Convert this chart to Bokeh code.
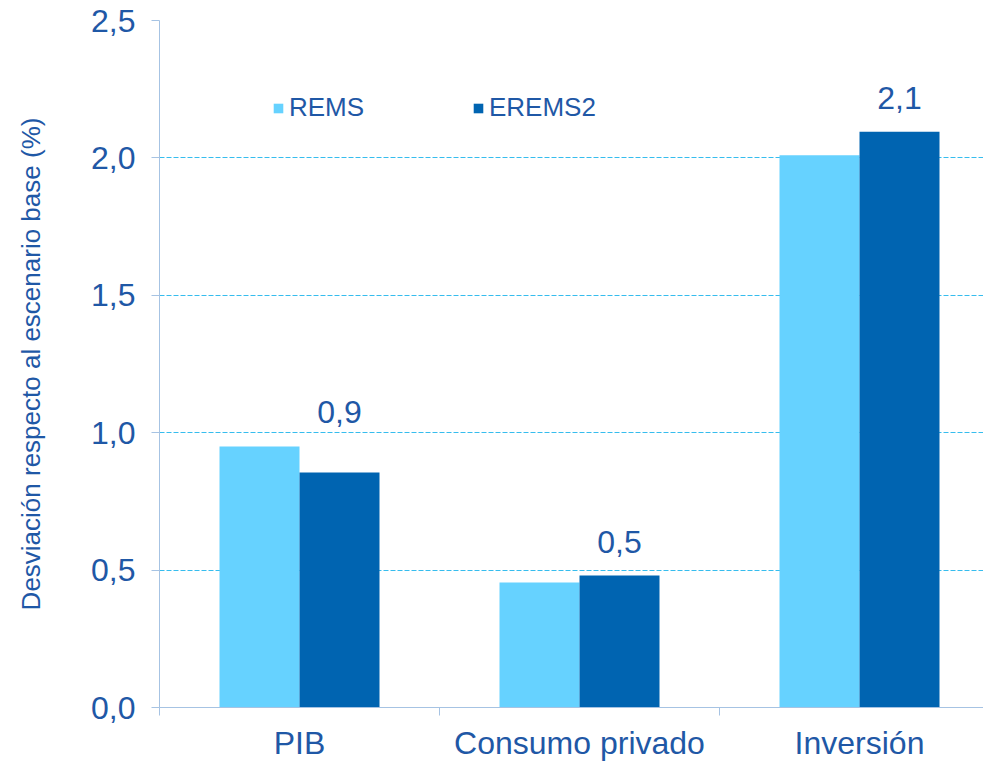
from bokeh.plotting import figure
from bokeh.models import (Range1d, FixedTicker, CustomJSTickFormatter, Legend,
                          LegendItem, ColumnDataSource)
from bokeh.embed import file_html
from bokeh.resources import INLINE
from bokeh.core.properties import value

# ---- data ----
categories = ["PIB", "Consumo privado", "Inversión"]
series_names = ["REMS", "EREMS2"]
rems = [0.95, 0.455, 2.01]
erems2 = [0.855, 0.48, 2.095]
y_ticks = [0.0, 0.5, 1.0, 1.5, 2.0, 2.5]
y_label = "Desviación respecto al escenario base (%)"

# ---- style ----
FONT = "Liberation Sans"
TXT = "#1F58A6"
AXC = "#A6C3E3"
GRID = "#36BDEE"
C_REMS = "#66D2FF"
C_EREMS2 = "#0064B1"

W, H = 983, 763
LEFT, TOP, BOTTOM = 159, 20, 56
CAT_PX = 280.0
BW = 80.0 / CAT_PX

centers = [i + 0.5 for i in range(len(categories))]
x_rems = [c - BW / 2 for c in centers]
x_erems = [c + BW / 2 for c in centers]

p = figure(width=W, height=H, output_backend="svg", toolbar_location=None,
           x_range=Range1d(0, (W - LEFT) / CAT_PX), y_range=Range1d(0, 2.5),
           min_border_left=LEFT, min_border_right=0, min_border_top=TOP,
           min_border_bottom=BOTTOM)
p.outline_line_color = None
p.background_fill_color = "white"

r1 = p.vbar(x=x_rems, top=rems, width=BW, fill_color=C_REMS, line_color=None)
r2 = p.vbar(x=x_erems, top=erems2, width=BW, fill_color=C_EREMS2, line_color=None)

lab_src = ColumnDataSource(dict(
    x=x_erems,
    y=[max(a, b) for a, b in zip(rems, erems2)],
    t=[f"{v:.1f}".replace(".", ",") for v in erems2]))
p.text(x="x", y="y", text="t", source=lab_src, text_align="center",
       text_baseline="alphabetic", y_offset=-34, text_font=value(FONT),
       text_font_size="32px", text_color=TXT)

# y axis
p.yaxis.ticker = FixedTicker(ticks=y_ticks)
p.yaxis.formatter = CustomJSTickFormatter(code="return tick.toFixed(1).replace('.', ',');")
p.yaxis.axis_line_color = AXC
p.yaxis.major_tick_line_color = AXC
p.yaxis.major_tick_out = 8
p.yaxis.major_tick_in = 0
p.yaxis.minor_tick_line_color = None
p.yaxis.major_label_text_font = FONT
p.yaxis.major_label_text_font_size = "32px"
p.yaxis.major_label_text_color = TXT
p.yaxis.major_label_standoff = 16
p.yaxis.axis_label = y_label
p.yaxis.axis_label_text_font = FONT
p.yaxis.axis_label_text_font_size = "26px"
p.yaxis.axis_label_text_font_style = "normal"
p.yaxis.axis_label_text_color = TXT
p.yaxis.axis_label_standoff = 42

# x axis
p.xaxis.ticker = FixedTicker(ticks=centers,
                             minor_ticks=list(range(len(categories) + 1)))
p.xaxis.formatter = CustomJSTickFormatter(
    args=dict(labels=categories),
    code="const i = Math.floor(tick); return (i >= 0 && i < labels.length) ? labels[i] : '';")
p.xaxis.axis_line_color = AXC
p.xaxis.major_tick_line_color = None
p.xaxis.major_tick_out = 0
p.xaxis.major_tick_in = 0
p.xaxis.minor_tick_line_color = AXC
p.xaxis.minor_tick_out = 8
p.xaxis.minor_tick_in = 0
p.xaxis.major_label_text_font = FONT
p.xaxis.major_label_text_font_size = "32px"
p.xaxis.major_label_text_color = TXT
p.xaxis.major_label_standoff = 9

# grid
p.xgrid.visible = False
p.ygrid.ticker = FixedTicker(ticks=y_ticks)
p.ygrid.grid_line_color = GRID
p.ygrid.grid_line_dash = "5 2"
p.ygrid.grid_line_width = 1

legend = Legend(items=[LegendItem(label=series_names[0], renderers=[r1]),
                       LegendItem(label=series_names[1], renderers=[r2])],
                location=(113, 584), orientation="horizontal",
                glyph_width=12, glyph_height=12, label_standoff=5,
                label_width=183, spacing=0, padding=0, margin=0,
                label_text_font=FONT, label_text_font_size="26px",
                label_text_color=TXT, border_line_alpha=0,
                background_fill_alpha=0)
p.add_layout(legend)

open("out.html", "w").write(file_html(p, INLINE))
